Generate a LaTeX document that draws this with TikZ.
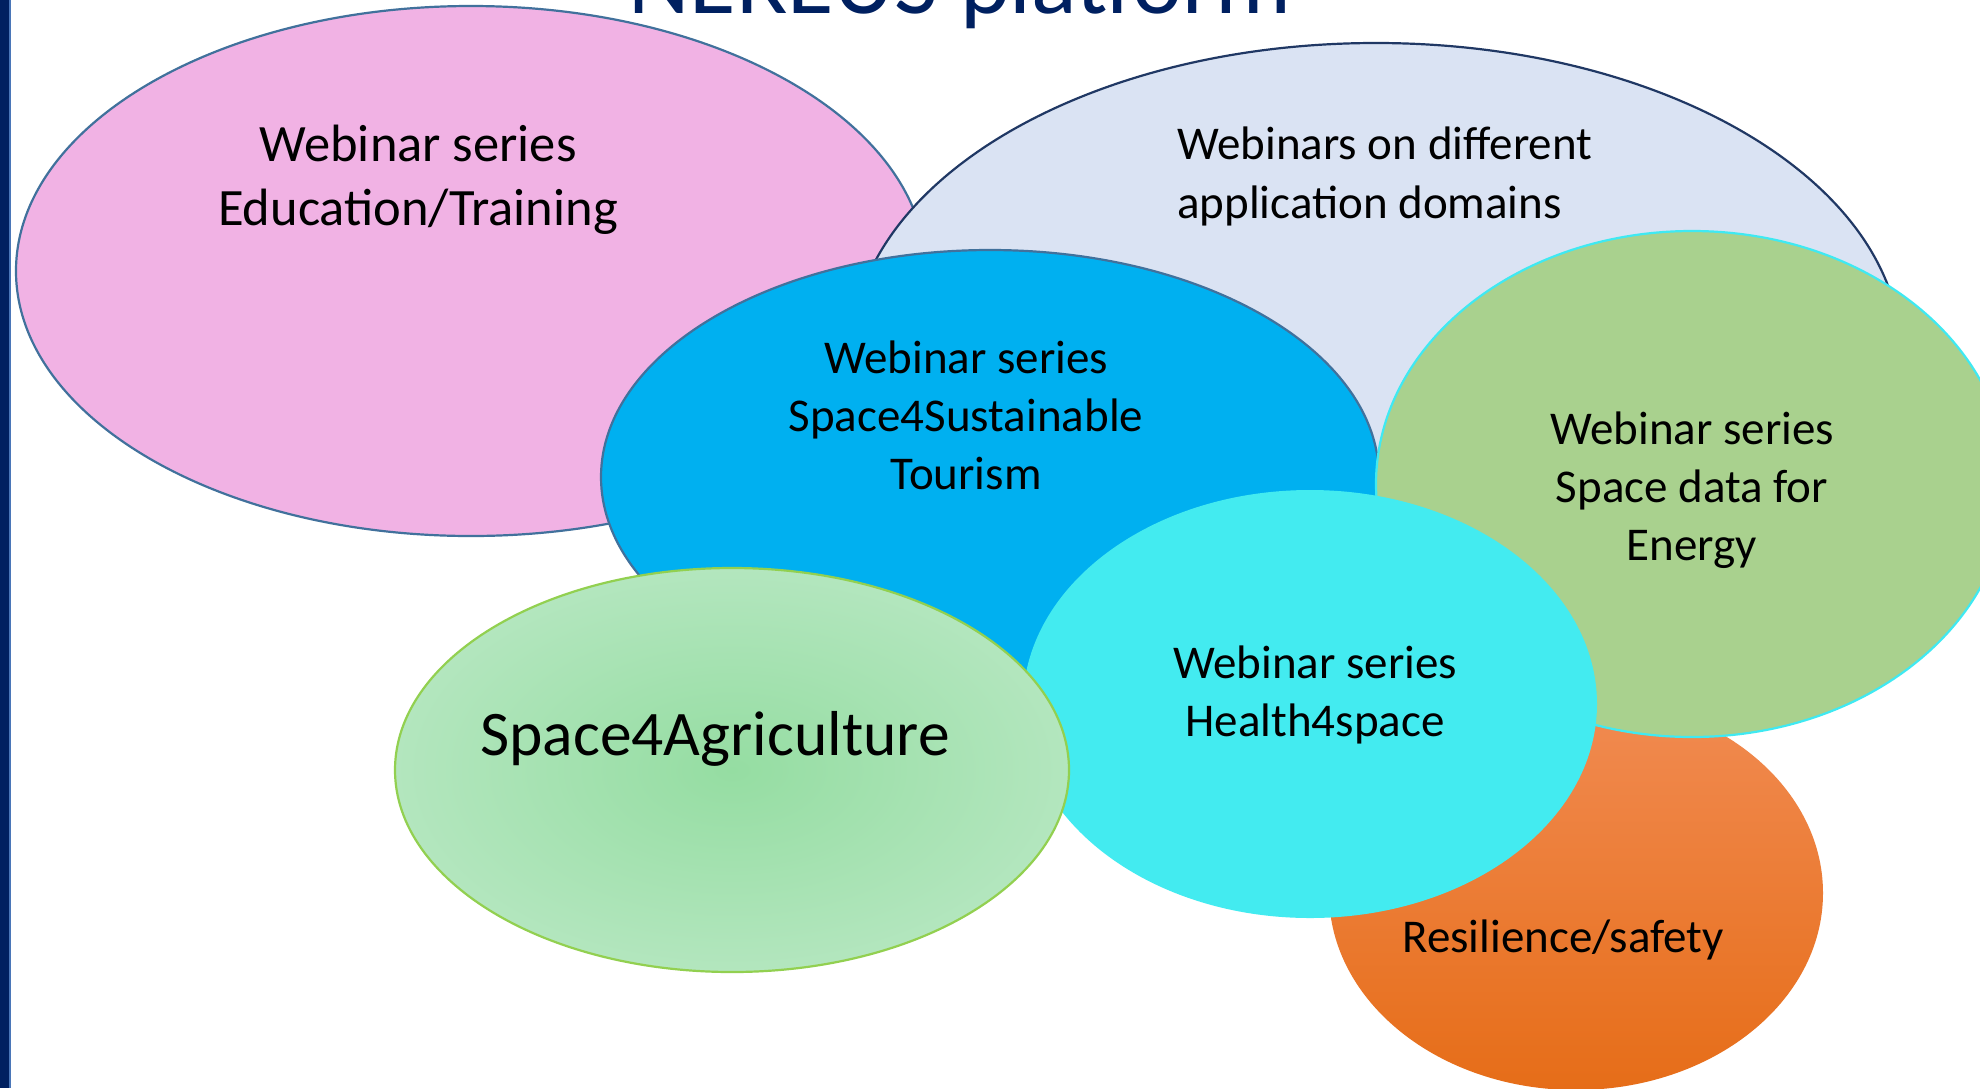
\documentclass[tikz,border=0pt]{standalone}
\usepackage{fontspec}
\setmainfont{Carlito}
\usetikzlibrary{shapes.geometric}
\definecolor{navy}{HTML}{002060}
\definecolor{barblue}{HTML}{4A76B8}
\definecolor{pinkfill}{HTML}{F1B2E4}
\definecolor{edgeblue}{HTML}{41719C}
\definecolor{lbfill}{HTML}{DAE3F3}
\definecolor{lbedge}{HTML}{203864}
\definecolor{tourfill}{HTML}{00B0F0}
\definecolor{energyfill}{HTML}{A9D18E}
\definecolor{cyanedge}{HTML}{3FE9F2}
\definecolor{healthfill}{HTML}{43EBF0}
\definecolor{ortop}{HTML}{F18B52}
\definecolor{ormid}{HTML}{F47F2E}
\definecolor{orbot}{HTML}{E66D18}
\definecolor{agin}{HTML}{95DDA2}
\definecolor{agmid}{HTML}{B3E6BE}
\definecolor{agout}{HTML}{D6F1D9}
\definecolor{agedge}{HTML}{92D050}
\pgfdeclareradialshading{agrishade}{\pgfpoint{0bp}{0bp}}{color(0bp)=(agin); color(25bp)=(agmid); color(50bp)=(agout)}
\tikzset{
  bubble/.style={shape=ellipse, inner sep=0pt, line width=2.2pt},
  big/.style={font=\fontsize{52.5}{64}\selectfont, text=black, inner sep=0pt, align=center},
  mid/.style={font=\fontsize{47}{58.5}\selectfont, text=black, inner sep=0pt, align=center},
}
\begin{document}
\begin{tikzpicture}[x=1pt,y=-1pt]
\useasboundingbox (0,0) rectangle (1980,1088);
\clip (0,0) rectangle (1980,1088);
\fill[white] (0,0) rectangle (1980,1088);
% title (cut off at top)
\node[anchor=base, inner sep=0pt, text=navy, font=\fontsize{95}{110}\selectfont] (title) at (960,13) {NEREUS platform};
% bubbles
\node[bubble, fill=pinkfill, draw=edgeblue, minimum width=910pt, minimum height=530pt] (edu) at (471,271) {};
\node[bubble, fill=lbfill, draw=lbedge, minimum width=1050pt, minimum height=624pt] (dom) at (1376,355) {};
\node[bubble, fill=tourfill, draw=edgeblue, minimum width=778pt, minimum height=454pt] (tour) at (990,477) {};
\node[bubble, top color=ortop, middle color=ormid, bottom color=orbot, minimum width=494pt, minimum height=394pt] (resil) at (1576,893) {};
\node[bubble, fill=energyfill, draw=cyanedge, minimum width=632pt, minimum height=506pt] (energy) at (1692,484) {};
\node[bubble, fill=healthfill, minimum width=574pt, minimum height=428pt] (health) at (1310,704) {};
\node[bubble, shading=agrishade, draw=agedge, minimum width=674pt, minimum height=404pt] (agri) at (732,770) {};
% texts
\node[big, anchor=base] (edut1) at (418,161) {Webinar series};
\node[big, anchor=base] (edut2) at (418,225) {Education/Training};
\node[mid, anchor=base west] (domt1) at (1177,159) {Webinars on different};
\node[mid, anchor=base west] (domt2) at (1177,218) {application domains};
\node[mid, anchor=base] (tourt1) at (966,373) {Webinar series};
\node[mid, anchor=base] (tourt2) at (966,431) {Space4Sustainable};
\node[mid, anchor=base] (tourt3) at (966,489) {Tourism};
\node[mid, anchor=base] (energyt1) at (1692,444) {Webinar series};
\node[mid, anchor=base] (energyt2) at (1692,502) {Space data for};
\node[mid, anchor=base] (energyt3) at (1692,560) {Energy};
\node[mid, anchor=base] (healtht1) at (1315,678) {Webinar series};
\node[mid, anchor=base] (healtht2) at (1315,736) {Health4space};
\node[mid, anchor=base] (resilt) at (1563,952) {Resilience/safety};
\node[anchor=base, inner sep=0pt, font=\fontsize{63.5}{76}\selectfont] (agrit) at (715,755) {Space4Agriculture};
% left bar
\fill[navy] (0,0) rectangle (8.5,1088);
\fill[barblue] (8.5,0) rectangle (11,1088);
\end{tikzpicture}
\end{document}
